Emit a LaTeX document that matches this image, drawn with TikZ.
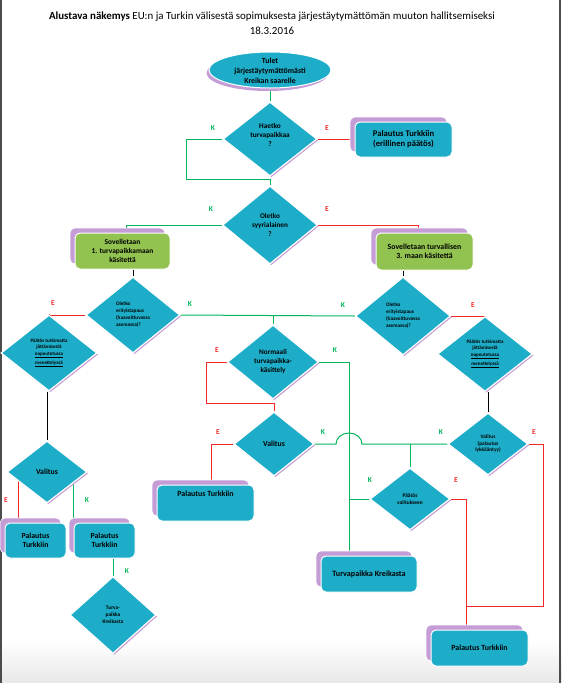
\documentclass[tikz,border=0pt]{standalone}
\usepackage{fontspec}
\setmainfont{Carlito}
\usetikzlibrary{shapes.geometric,shadows,backgrounds,calc}
\definecolor{cy}{RGB}{30,173,200}
\definecolor{gbox}{RGB}{146,194,80}
\definecolor{shp}{RGB}{196,156,214}
\definecolor{gl}{RGB}{0,180,90}
\definecolor{rl}{RGB}{240,40,40}
\newcommand{\fs}[1]{\bfseries\fontsize{#1}{#1}\selectfont}
\begin{document}
\begin{tikzpicture}[x=1pt,y=-1pt,
  dia/.style={diamond, fill=cy, draw=white, line width=1.2pt, inner sep=0pt, align=center,
    general shadow={fill=shp, shadow xshift=1.3pt, shadow yshift=-1.3pt}},
  box/.style={rectangle, rounded corners=5pt, fill=cy, draw=white, line width=1pt, inner sep=1pt, align=center,
    general shadow={fill=shp, draw=white, line width=0.6pt, shadow xshift=-5pt, shadow yshift=5pt}},
  gbx/.style={box, fill=gbox},
  ell/.style={ellipse, fill=cy, draw=white, line width=1pt, inner sep=0pt,
    general shadow={fill=shp, shadow xshift=-2.5pt, shadow yshift=-3pt}},
  lab/.style={font=\fs{7.5}, inner sep=0pt},
  klab/.style={lab, text=gl},
  elab/.style={lab, text=rl},
  gline/.style={draw=gl, line width=1pt},
  rline/.style={draw=rl, line width=1pt},
  bline/.style={draw=black, line width=1pt},
]
\useasboundingbox (0,0) rectangle (562,683);

% title
\node[font=\fontsize{10.9}{13}\selectfont, inner sep=0pt] (t1) at (272,17) {\textbf{Alustava näkemys} EU:n ja Turkin välisestä sopimuksesta järjestäytymättömän muuton hallitsemiseksi};
\node[font=\fontsize{10.9}{13}\selectfont, inner sep=0pt] (t2) at (272,31) {18.3.2016};

% nodes
\node[ell, minimum width=122pt, minimum height=36pt,
  label={[font=\fs{7.8}, align=center, inner sep=0pt, yshift=-1pt]center:{Tulet\\[2.2pt]järjestäytymättömästi\\[2.2pt]Kreikan saarelle}}] (e0) at (270,70) {};

\node[dia, minimum width=94pt, minimum height=74pt,
  label={[font=\fs{7.3}, align=center, inner sep=0pt, yshift=4pt]center:{Haetko\\[1.5pt]turvapaikkaa\\[1.5pt]?}}] (d1) at (270,139) {};
\node[box, minimum width=97pt, minimum height=35pt, font=\fs{8.6}] (b1) at (403.5,139.5) {Palautus Turkkiin\\[1.5pt](erillinen päätös)};

\node[dia, minimum width=95pt, minimum height=78pt, font=\fs{7.2}] (d2) at (270,225) {Oletko\\[1.5pt]syyrialainen\\[1.5pt]?};

\node[gbx, minimum width=95pt, minimum height=36pt, font=\fs{7.4}] (g1) at (122.5,251) {Sovelletaan\\[1.5pt]1. turvapaikkamaan\\[1.5pt]käsitettä};
\node[gbx, minimum width=97pt, minimum height=37pt, font=\fs{7.8}] (g2) at (424.5,251.5) {Sovelletaan turvallisen\\[1.5pt]3. maan käsitettä};

\node[dia, minimum width=94pt, minimum height=76pt, font=\fs{5.2}, align=left] (d3) at (133,315) {Oletko\\[1.8pt]erityistapaus\\[1.8pt](haavoittuvassa\\[1.8pt]asemassa)?};
\node[dia, minimum width=95pt, minimum height=78pt, font=\fs{5.2}, align=left] (d4) at (403,316) {Oletko\\[1.8pt]erityistapaus\\[1.8pt](haavoittuvassa\\[1.8pt]asemassa)?};

\node[dia, minimum width=96pt, minimum height=76pt, font=\fs{5}] (d5) at (49,353) {Päätös tutkimatta\\[1.5pt]jättämisestä\\[1.5pt]\underline{nopeutetussa}\\[1.5pt]\underline{menettelyssä}};
\node[dia, minimum width=95pt, minimum height=75pt, font=\fs{5}] (d7) at (485,354) {Päätös tutkimatta\\[1.5pt]jättämisestä\\[1.5pt]\underline{nopeutetussa}\\[1.5pt]\underline{menettelyssä}};

\node[dia, minimum width=91pt, minimum height=74pt, font=\fs{7.2}] (d6) at (273,362) {Normaali\\[1.8pt]turvapaikka-\\[1.8pt]käsittely};

\node[dia, minimum width=80pt, minimum height=64pt, font=\fs{7.8}] (d8) at (274,444) {Valitus};
\node[dia, minimum width=80pt, minimum height=62pt, font=\fs{5.3}] (d9) at (488,444) {Valitus\\[1.2pt](palautus\\[1.2pt]lykkääntyy)};
\node[dia, minimum width=80pt, minimum height=62pt, font=\fs{5.4}] (d10) at (410,499) {Päätös\\[1.5pt]valitukseen};
\node[dia, minimum width=80pt, minimum height=62pt, font=\fs{7.8}] (d11) at (47,472) {Valitus};
\node[dia, minimum width=86pt, minimum height=77pt, font=\fs{5.4}] (d12) at (113,615) {Turva-\\[1.5pt]paikka\\[1.5pt]Kreikasta};

\node[box, minimum width=97pt, minimum height=36pt, font=\fs{7.9}, text depth=18pt] (bM) at (205.5,503) {Palautus Turkkiin};
\node[box, minimum width=96pt, minimum height=36pt, font=\fs{8.1}] (bT) at (369,574) {Turvapaikka Kreikasta};
\node[box, minimum width=97pt, minimum height=36pt, font=\fs{7.9}] (bP) at (479.5,648) {Palautus Turkkiin};
\node[box, minimum width=61pt, minimum height=35pt, font=\fs{7.8}] (bL1) at (35.5,540.5) {Palautus\\[1.5pt]Turkkiin};
\node[box, minimum width=61pt, minimum height=35pt, font=\fs{7.8}] (bL2) at (104.5,540.5) {Palautus\\[1.5pt]Turkkiin};

% helper coordinates
\coordinate (gv) at (349,362);
\coordinate (rv) at (466,499);
\coordinate (rr) at (543,444);

% labels
\node[klab] (k1) at (213,128) {K};
\node[elab] (e1) at (327,128) {E};
\node[klab] (k2) at (211,209) {K};
\node[elab] (e2) at (327,209) {E};
\node[elab] (e3) at (53,303) {E};
\node[klab] (k3) at (190,304) {K};
\node[klab] (k4) at (343,305) {K};
\node[elab] (e4) at (473,305) {E};
\node[elab] (e5) at (217,350) {E};
\node[klab] (k5) at (335,350) {K};
\node[elab] (e6) at (218,432) {E};
\node[klab] (k6) at (323,432) {K};
\node[klab] (k7) at (441,432) {K};
\node[elab] (e7) at (534,432) {E};
\node[klab] (k8) at (370,480) {K};
\node[elab] (e8) at (456,480) {E};
\node[elab] (e9) at (6,500) {E};
\node[klab] (k9) at (87,500) {K};
\node[klab] (k10) at (127,571) {K};

\begin{scope}[on background layer]
  \fill[white] (0,0) rectangle (562,683);
  \shade[top color=white, bottom color=black!9] (0,640) rectangle (562,683);
  \draw[black!70, line width=1.3pt] (1,0) -- (1,683);
  \draw[black!70, line width=1.3pt] (560,0) -- (560,683);

  \draw[gline] (e0) -- (d1.north);
  \draw[rline] (d1.east) -- (d1.east -| b1.west);
  \draw[gline] (d1.west) -- ++(-36,0) |- ([yshift=6pt]d2.north) -- (d2.north);
  \draw[gline] (d2.west) -| ([xshift=4pt]g1.north);
  \draw[rline] (d2.east) -| ([xshift=-6pt]g2.north);
  \draw[bline] (d3.north |- g1.south) -- (d3.north);
  \draw[bline] (d4.north |- g2.south) -- (d4.north);
  \draw[rline] (d3.west) -| (d5.north);
  \draw[gline] (d3.east) -- (d4.west);
  \draw[gline] (d6.north |- d3.east) -- (d6.north);
  \draw[rline] (d4.east) -| (d7.north);
  \draw[rline] (d6.west) -- ++(-20,0) |- ([yshift=8pt]d8.north) -- (d8.north);
  \draw[gline] (d6.east) -| (gv) -- (gv |- bT.north);
  \draw[rline] (d8.west) -| ([xshift=5.5pt]bM.north);
  \draw[gline] (d8.east) -- ($(gv |- d8.east)+(-13,0)$) arc[start angle=180, end angle=360, x radius=13, y radius=11] -- (d9.west);
  \draw[gline] (d10.north |- d8.east) -- (d10.north);
  \draw[bline] (d9.north |- d7.south) -- (d9.north);
  \draw[rline] (d9.east) -- (rr) |- (rv |- 0,606);
  \draw[rline] (d10.east) -- (rv) -- (rv |- bP.north);
  \draw[gline] (d10.west) -- (d10.west -| gv);
  \draw[bline] (d11.north |- d5.south) -- (d11.north);
  \draw[rline] ([xshift=-29pt]d11.center) -- ([xshift=-29pt]d11.center |- bL1.north);
  \draw[gline] ([xshift=26pt]d11.center) -- ([xshift=26pt]d11.center |- bL2.north);
  \draw[gline] (d12.north |- bL2.south) -- (d12.north);
\end{scope}
\end{tikzpicture}
\end{document}
